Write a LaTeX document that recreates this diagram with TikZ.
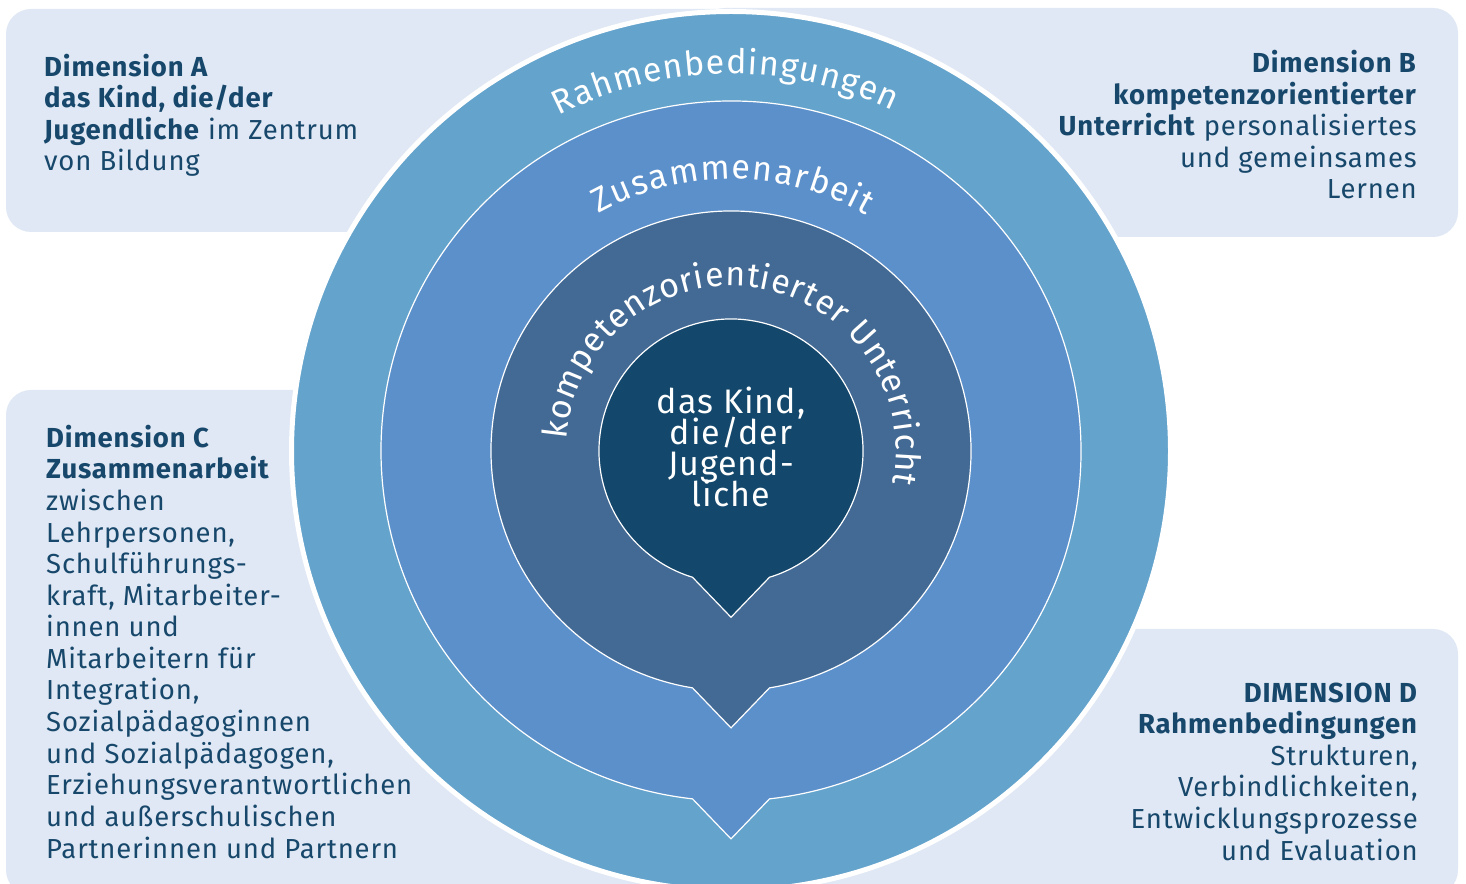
\documentclass[tikz,border=0pt]{standalone}
\usepackage{fontspec}
\setmainfont{Fira Sans}
\newfontfamily\boxfont[LetterSpace=3]{Fira Sans}
\newfontfamily\ringfont{Fira Sans}
\usepackage{tikz}
\usetikzlibrary{calc}
\usetikzlibrary{decorations.text}
\setlength{\lineskiplimit}{-100pt}
\definecolor{boxbg}{HTML}{DFE8F4}
\definecolor{dimblue}{HTML}{17476B}
\definecolor{ringA}{HTML}{63A3CC}
\definecolor{ringB}{HTML}{5C90CB}
\definecolor{ringC}{HTML}{436A94}
\definecolor{ringD}{HTML}{13476B}
\tikzstyle{dimbox} = [fill=boxbg, rounded corners=25]
\tikzstyle{dimtext} = [text=dimblue, inner sep=0, font=\boxfont\fontsize{27.5}{31.6}\selectfont]
\tikzstyle{kindtext} = [text=white, inner sep=0, align=center, anchor=base,
	font=\boxfont\fontsize{34}{31.3}\selectfont]
\tikzstyle{ringtext} = [decorate, decoration={text along path, text color=white,
	text align={fit to path}}]
\newcommand{\ringfmt}{\ringfont\fontsize{34}{34}\selectfont}
% circle of radius #1 with a tip pointing down
\newcommand{\bubble}[2]{%
	\pgfmathsetmacro{\bang}{asin(38.5/#1)}%
	\pgfmathsetmacro{\bdep}{100*sqrt((#1/100)^2-0.385^2)+40}%
	\filldraw[fill=#2, draw=white, line width=1.2]
		(-90+\bang:#1) arc[start angle=-90+\bang, end angle=270-\bang, radius=#1]
		-- (0,-\bdep) -- cycle;}

\begin{document}
\begin{tikzpicture}[x=1pt, y=1pt]
	\useasboundingbox (0,0) rectangle (1466,883);
	\clip (0,0) rectangle (1466,883);

	\fill[dimbox] (6,651) rectangle (760,874);
	\fill[dimbox] (700,646) rectangle (1458,875);
	\fill[dimbox] (6,-12) rectangle (760,493);
	\fill[dimbox] (700,-12) rectangle (1458,254);

	\begin{scope}[shift={(731,432)}]
	\filldraw[fill=ringA, draw=white, line width=5] (0,0) circle[radius=439.5];
	\bubble{350}{ringB}
	\bubble{240}{ringC}
	\bubble{132}{ringD}

	\path[ringtext, decoration={text={|\ringfmt|Rahmenbedingungen}}]
		(117.2:377) arc[start angle=117.2, end angle=64.6, radius=377];
	\path[ringtext, decoration={text={|\ringfmt|Zusammenarbeit}}]
		(119.1:272) arc[start angle=119.1, end angle=60.1, radius=272];
	\path[ringtext, decoration={text={|\ringfmt|kompetenzorientierter Unterricht}}]
		(176:165) arc[start angle=176, end angle=-11.5, radius=165];

	\node[kindtext] (kind) at (0,-56) {das Kind,\\die/der\\Jugend-\\liche};
	\end{scope}

	\node[dimtext, align=left, anchor=base west] (dimA) at (44,712)
		{\textbf{Dimension A}\\\textbf{das Kind, die/der}\\\textbf{Jugendliche} im Zentrum\\von Bildung};
	\node[dimtext, align=right, anchor=base east] (dimB) at (1417,684)
		{\textbf{Dimension B}\\\textbf{kompetenzorientierter}\\\textbf{Unterricht} personalisiertes\\und gemeinsames\\Lernen};
	\node[dimtext, align=left, anchor=base west] (dimC) at (46,25)
		{\textbf{Dimension C}\\\textbf{Zusammenarbeit}\\zwischen\\Lehrpersonen,\\Schulführungs-\\kraft, Mitarbeiter-\\innen und\\Mitarbeitern für\\Integration,\\Sozialpädagoginnen\\und Sozialpädagogen,\\Erziehungsverantwortlichen\\und außerschulischen\\Partnerinnen und Partnern};
	\node[dimtext, align=right, anchor=base east] (dimD) at (1418,23)
		{\textbf{DIMENSION D}\\\textbf{Rahmenbedingungen}\\Strukturen,\\Verbindlichkeiten,\\Entwicklungsprozesse\\und Evaluation};
\end{tikzpicture}
\end{document}
